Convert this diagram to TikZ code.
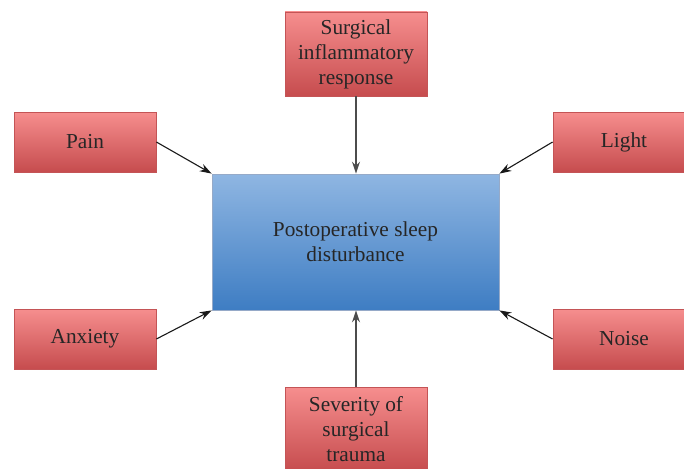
\documentclass[tikz,border=0pt]{standalone}
\usepackage{fontspec}
\setmainfont{Liberation Serif}
\usetikzlibrary{arrows.meta}
\definecolor{redtop}{RGB}{246,142,142}
\definecolor{redbot}{RGB}{198,76,78}
\definecolor{redline}{RGB}{196,84,86}
\definecolor{bluetop}{RGB}{143,182,226}
\definecolor{bluebot}{RGB}{62,125,195}
\definecolor{blueline}{RGB}{150,170,200}
\definecolor{txt}{RGB}{38,38,38}
\tikzset{
  factor/.style={draw=redline, line width=0.8pt, top color=redtop, bottom color=redbot,
    minimum width=142pt, minimum height=60pt, inner sep=0pt, align=center,
    text=txt, font=\fontsize{21.3}{25}\selectfont},
  tallfactor/.style={factor, minimum height=84pt},
  mainbox/.style={draw=blueline, line width=0.8pt, top color=bluetop, bottom color=bluebot,
    minimum width=287pt, minimum height=136pt, inner sep=0pt, align=center,
    text=txt, font=\fontsize{21.3}{25}\selectfont},
  arr/.style={-{Stealth[length=12pt,width=8pt]}, line width=1.1pt, draw=black!90},
  varr/.style={arr, line width=1.6pt, draw=black!70}
}
\begin{document}
\begin{tikzpicture}[x=1pt,y=-1pt]
\useasboundingbox (0,0) rectangle (684,468);
\node[mainbox] (psd) at (355.5,242) {Postoperative sleep\\disturbance};
\node[factor] (pain) at (85,142) {\raisebox{-2pt}{Pain}};
\node[factor] (light) at (624,142) {\raisebox{-2pt}{Light}};
\node[factor] (anx) at (85,339) {\raisebox{-2pt}{Anxiety}};
\node[factor] (noise) at (624,339) {\raisebox{-2pt}{Noise}};
\node[tallfactor] (surg) at (356,54) {Surgical\\inflammatory\\response};
\node[tallfactor] (sev) at (356,429) {Severity of\\surgical\\trauma};
\draw[arr] (pain.east) -- (psd.north west);
\draw[arr] (light.west) -- (psd.north east);
\draw[arr] (anx.east) -- (psd.south west);
\draw[arr] (noise.west) -- (psd.south east);
\draw[varr] (surg.south) -- (surg.south |- psd.north);
\draw[varr] (sev.north) -- (sev.north |- psd.south);
\end{tikzpicture}
\end{document}
